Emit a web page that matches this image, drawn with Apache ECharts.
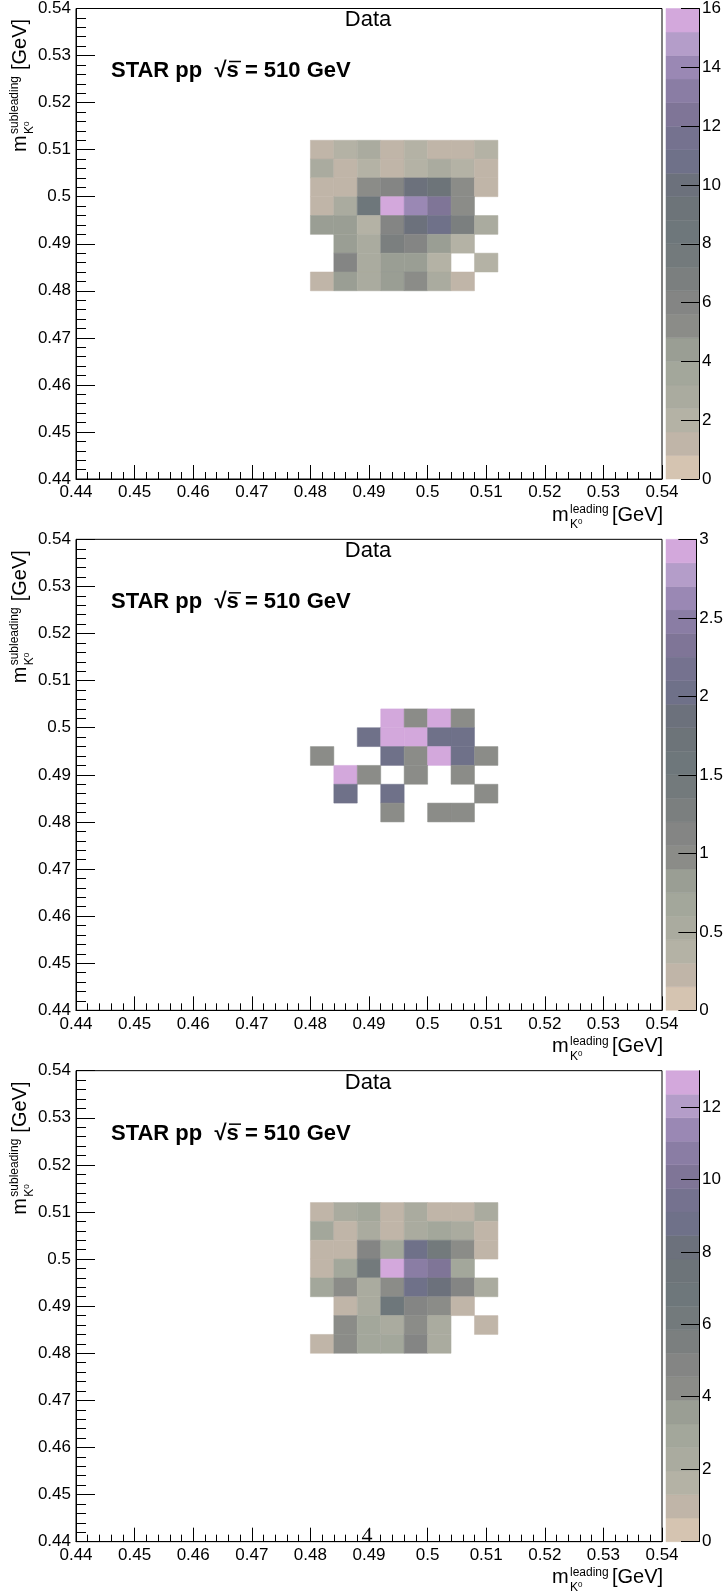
<!DOCTYPE html>
<html><head><meta charset="utf-8">
<script src="https://cdn.jsdelivr.net/npm/echarts@6/dist/echarts.min.js"></script>
<style>html,body{margin:0;padding:0;background:#fff}#c{width:726px;height:1594px}</style>
</head><body><div id="c"></div>
<script>
// ---- data ----
const xBinLow = [0.480, 0.484, 0.488, 0.492, 0.496, 0.500, 0.504, 0.508];
const yBinLow = [0.508, 0.504, 0.500, 0.496, 0.492, 0.488, 0.484, 0.480]; // rows top -> bottom
const binWidth = 0.004;
const axisMin = 0.44, axisMax = 0.54, axisStep = 0.01;

const countsAll = [
  [1, 2, 3, 1, 2, 1, 1, 2],
  [3, 1, 2, 1, 2, 3, 2, 1],
  [1, 1, 5, 6, 10, 9, 5, 1],
  [1, 3, 8, 16, 14, 12, 5, 0],
  [4, 4, 2, 6, 10, 11, 7, 3],
  [0, 4, 3, 7, 6, 4, 2, 0],
  [0, 6, 3, 4, 4, 2, 0, 2],
  [1, 4, 3, 4, 5, 3, 1, 0]
];
const countsMid = [
  [0, 0, 0, 0, 0, 0, 0, 0],
  [0, 0, 0, 0, 0, 0, 0, 0],
  [0, 0, 0, 3, 1, 3, 1, 0],
  [0, 0, 2, 3, 3, 2, 2, 0],
  [1, 0, 0, 2, 1, 3, 2, 1],
  [0, 3, 1, 0, 1, 0, 1, 0],
  [0, 2, 0, 2, 0, 0, 0, 1],
  [0, 0, 0, 1, 0, 1, 1, 0]
];
const countsBot = [
  [1, 2, 3, 1, 2, 1, 1, 2],
  [3, 1, 2, 1, 2, 3, 2, 1],
  [1, 1, 5, 3, 9, 6, 4, 1],
  [1, 3, 6, 13, 11, 10, 3, 0],
  [3, 4, 2, 4, 9, 8, 5, 2],
  [0, 1, 2, 7, 5, 4, 1, 0],
  [0, 4, 3, 2, 4, 2, 0, 1],
  [1, 4, 3, 3, 5, 2, 0, 0]
];
const zMax = [16, 3, 13];
const zTicksTop = [0, 2, 4, 6, 8, 10, 12, 14, 16];
const zTicksMid = [0, 0.5, 1, 1.5, 2, 2.5, 3];
const zTicksBot = [0, 2, 4, 6, 8, 10, 12];
const nBands = 20;
const palette = ['#d5c4b1','#c0b5a8','#b4b2a5','#aaab9f','#a3a79b','#9a9e94','#8b8c88','#848584','#7b7f7f','#737a7c',
                 '#6e777b','#6d7479','#6c717c','#6f7189','#75728f','#7f7597','#8a7da4','#9a88b4','#b49dc9','#d3a8dc'];

// ---- layout ----
const FONT = 'Liberation Sans, Arial, sans-serif';
const panelH = 1594 / 3;
const frameL = 76, frameW = 586, frameT = 8, frameH = 471;
const cbL = 666, cbW = 33;

const panels = [
  {counts: countsAll, max: zMax[0], ticks: zTicksTop, zint: 2},
  {counts: countsMid, max: zMax[1], ticks: zTicksMid, zint: 0.5},
  {counts: countsBot, max: zMax[2], ticks: zTicksBot, zint: 2}
];

function colorOf(v, max) {
  let b = Math.floor(v / max * nBands + 1e-9);
  if (b > nBands - 1) b = nBands - 1;
  if (b < 0) b = 0;
  return palette[b];
}

const grid = [], xAxis = [], yAxis = [], series = [], graphic = [];
panels.forEach((p, i) => {
  const off = i * panelH;
  grid.push({left: frameL, top: frameT + off, width: frameW, height: frameH,
             show: true, borderColor: '#000', borderWidth: 1, backgroundColor: 'transparent'});
  grid.push({left: cbL, top: frameT + off, width: cbW, height: frameH, show: false});
  const g = 2 * i;
  xAxis.push({type: 'value', gridIndex: g, min: axisMin, max: axisMax, interval: axisStep, z: 5,
    axisLine: {show: true, onZero: false, lineStyle: {color: '#000', width: 1}},
    axisTick: {show: true, inside: true, length: 14, lineStyle: {color: '#000'}},
    minorTick: {show: true, splitNumber: 5, length: 7, lineStyle: {color: '#000'}},
    splitLine: {show: false},
    axisLabel: {color: '#000', fontFamily: FONT, fontSize: 17, margin: 5,
      formatter: v => String(+v.toFixed(2))}});
  yAxis.push({type: 'value', gridIndex: g, min: axisMin, max: axisMax, interval: axisStep, z: 5,
    axisLine: {show: true, onZero: false, lineStyle: {color: '#000', width: 1}},
    axisTick: {show: true, inside: true, length: 19, lineStyle: {color: '#000'}},
    minorTick: {show: true, splitNumber: 5, length: 10, lineStyle: {color: '#000'}},
    splitLine: {show: false},
    axisLabel: {color: '#000', fontFamily: FONT, fontSize: 17, margin: 5,
      formatter: v => String(+v.toFixed(2))}});
  // colorbar axes
  xAxis.push({type: 'value', gridIndex: g + 1, min: 0, max: 1, show: false});
  yAxis.push({type: 'value', gridIndex: g + 1, min: 0, max: p.max, interval: p.zint, position: 'right', z: 5,
    axisLine: {show: true, onZero: false, lineStyle: {color: '#000', width: 1}},
    axisTick: {show: true, inside: true, length: 18, customValues: p.ticks, lineStyle: {color: '#000'}},
    splitLine: {show: false},
    axisLabel: {color: '#000', fontFamily: FONT, fontSize: 17, margin: 3, customValues: p.ticks}});

  const cells = [];
  p.counts.forEach((row, r) => row.forEach((v, c) => {
    if (v > 0) cells.push([xBinLow[c], yBinLow[r], v]);
  }));
  const max = p.max;
  series.push({type: 'custom', xAxisIndex: g, yAxisIndex: g, data: cells, silent: true, z: 1,
    renderItem: (params, api) => {
      const x0 = api.value(0), y0 = api.value(1), v = api.value(2);
      const a = api.coord([x0, y0]), b = api.coord([x0 + binWidth, y0 + binWidth]);
      return {type: 'rect', shape: {x: a[0], y: b[1], width: b[0] - a[0], height: a[1] - b[1]},
              style: {fill: colorOf(v, max), stroke: colorOf(v, max), lineWidth: 0.5}};
    }});
  const bands = [];
  for (let k = 0; k < nBands; k++) bands.push([k * max / nBands, (k + 1) * max / nBands, k]);
  series.push({type: 'custom', xAxisIndex: g + 1, yAxisIndex: g + 1, data: bands, silent: true, z: 1,
    renderItem: (params, api) => {
      const a = api.coord([0, api.value(0)]), b = api.coord([1, api.value(1)]);
      return {type: 'rect', shape: {x: a[0], y: b[1], width: b[0] - a[0], height: a[1] - b[1]},
              style: {fill: palette[api.value(2)], stroke: palette[api.value(2)], lineWidth: 0.5}};
    }});

  // texts
  graphic.push({type: 'text', x: 368, y: 20 + off,
    style: {text: 'Data', font: '22px ' + FONT, fill: '#000', align: 'center', verticalAlign: 'middle'}});
  graphic.push({type: 'text', x: 111, y: 71 + off,
    style: {text: 'STAR pp  \u221As = 510 GeV', font: 'bold 22px ' + FONT, fill: '#000', verticalAlign: 'middle'}});
  graphic.push({type: 'line', shape: {x1: 229, y1: 61.5 + off, x2: 241, y2: 61.5 + off},
    style: {stroke: '#000', lineWidth: 1.5}});
  // x title
  graphic.push({type: 'group', x: 552, y: 525 + off, children: [
    {type: 'text', x: 0, y: 0, style: {text: 'm', font: '20px ' + FONT, fill: '#000', verticalAlign: 'bottom'}},
    {type: 'text', x: 18, y: -9, style: {text: 'leading', font: '12px ' + FONT, fill: '#000', verticalAlign: 'bottom'}},
    {type: 'text', x: 18, y: 6, style: {text: 'K', font: '12px ' + FONT, fill: '#000', verticalAlign: 'bottom'}},
    {type: 'text', x: 26, y: 1, style: {text: '0', font: '8px ' + FONT, fill: '#000', verticalAlign: 'bottom'}},
    {type: 'text', x: 60, y: 0, style: {text: '[GeV]', font: '20px ' + FONT, fill: '#000', verticalAlign: 'bottom'}}
  ]});
  // y title (rotated)
  graphic.push({type: 'group', x: 30, y: 152 + off, rotation: Math.PI / 2, children: [
    {type: 'text', x: 0, y: 0, style: {text: 'm', font: '20px ' + FONT, fill: '#000', verticalAlign: 'bottom'}},
    {type: 'text', x: 18, y: -9, style: {text: 'subleading', font: '12px ' + FONT, fill: '#000', verticalAlign: 'bottom'}},
    {type: 'text', x: 18, y: 6, style: {text: 'K', font: '12px ' + FONT, fill: '#000', verticalAlign: 'bottom'}},
    {type: 'text', x: 26, y: 1, style: {text: '0', font: '8px ' + FONT, fill: '#000', verticalAlign: 'bottom'}},
    {type: 'text', x: 82, y: 0, style: {text: '[GeV]', font: '20px ' + FONT, fill: '#000', verticalAlign: 'bottom'}}
  ]});
});
graphic.push({type: 'text', x: 367, y: 1536,
  style: {text: '4', font: '22px Liberation Serif, serif', fill: '#000', align: 'center', verticalAlign: 'middle'}});

const chart = echarts.init(document.getElementById('c'), null, {renderer: 'canvas'});
chart.setOption({animation: false, backgroundColor: '#fff', grid, xAxis, yAxis, series, graphic});
</script></body></html>
